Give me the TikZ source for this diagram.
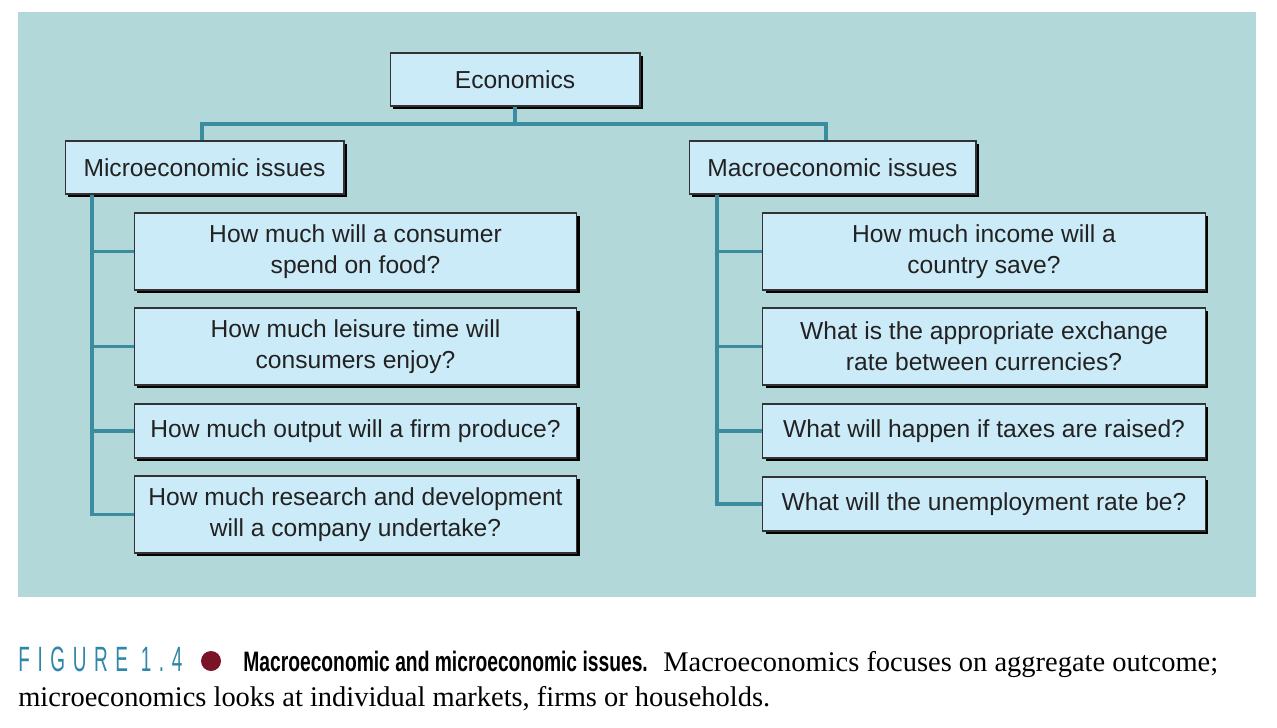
\documentclass[tikz,border=0pt]{standalone}
\usepackage{fontspec}
\usepackage{graphicx}
\setmainfont{Liberation Sans}
\newfontfamily\capserif{Liberation Serif}
\newfontfamily\figfont[LetterSpace=40]{Liberation Sans}
\usetikzlibrary{shadows}
\definecolor{panel}{HTML}{B3D8D9}
\definecolor{boxfill}{HTML}{CCEBF8}
\definecolor{boxline}{HTML}{333333}
\definecolor{linkteal}{HTML}{3C8CA0}
\definecolor{figteal}{HTML}{2E86A8}
\definecolor{dotred}{HTML}{7A1228}
\definecolor{textdark}{HTML}{222222}
\tikzset{
  headbox/.style={draw=boxline, fill=boxfill, line width=0.6pt, align=center, text=textdark, inner sep=4pt, minimum height=1.06cm, drop shadow={opacity=1, fill=black, shadow xshift=0.06cm, shadow yshift=-0.06cm}},
  qbox/.style={headbox, minimum width=8.86cm},
  link/.style={draw=linkteal, line width=2.1pt},
  captext/.style={anchor=base west, inner sep=0pt}
}
\begin{document}
\begin{tikzpicture}[x=0.02cm, y=-0.02cm, font=\fontsize{14}{17.6}\selectfont]
  \useasboundingbox (0,0) rectangle (1277,727);
  \fill[panel] (18,12) rectangle (1256,597);

  \node[headbox, minimum width=5cm] (econ) at (515,79.5) {Economics};
  \node[headbox, minimum width=5.58cm] (micro) at (204.5,167.5) {Microeconomic issues};
  \node[headbox, minimum width=5.74cm] (macro) at (832.5,167.5) {Macroeconomic issues};

  \node[qbox, minimum height=1.54cm] (mi1) at (355.5,251.5) {How much will a consumer\\spend on food?};
  \node[qbox, minimum height=1.54cm] (mi2) at (355.5,346.5) {How much leisure time will\\consumers enjoy?};
  \node[qbox, minimum height=1.08cm] (mi3) at (355.5,431) {How much output will a firm produce?};
  \node[qbox, minimum height=1.54cm] (mi4) at (355.5,514.5) {How much research and development\\will a company undertake?};

  \node[qbox, minimum height=1.54cm] (ma1) at (984,251.5) {How much income will a\\country save?};
  \node[qbox, minimum height=1.54cm] (ma2) at (984,346.5) {What is the appropriate exchange\\rate between currencies?};
  \node[qbox, minimum height=1.08cm] (ma3) at (984,431) {What will happen if taxes are raised?};
  \node[qbox, minimum height=1.08cm] (ma4) at (984,504) {What will the unemployment rate be?};

  \coordinate (bus) at (515,124);
  \coordinate (ltrunk) at (92,0);
  \coordinate (rtrunk) at (717,0);
  \draw[link] (econ.south) -- (bus);
  \draw[link] ([xshift=-0.05cm]micro.north) |- (bus) -| ([xshift=-0.13cm]macro.north);
  \draw[link] (micro.south -| ltrunk) |- (mi4.west);
  \draw[link] (macro.south -| rtrunk) |- (ma4.west);
  \foreach \q in {mi1,mi2,mi3}
    \draw[link] (\q.west -| ltrunk) -- (\q.west);
  \foreach \q in {ma1,ma2,ma3}
    \draw[link] (\q.west -| rtrunk) -- (\q.west);

  % caption
  \node[captext, text=figteal, font=\figfont\fontsize{20}{22}\selectfont] (fig) at (18,671) {\scalebox{0.54}[1]{FIGURE 1.4}};
  \node[circle, fill=dotred, minimum size=0.4cm, inner sep=0pt] (dot) at (211,661) {};
  \node[captext, font=\bfseries\fontsize{16}{19}\selectfont] (title) at (243,671) {\scalebox{0.685}[1]{Macroeconomic and microeconomic issues.}};
  \node[captext, font=\capserif\fontsize{16.2}{19}\selectfont] (cap1) at (663,671) {Macroeconomics focuses on aggregate outcome;};
  \node[captext, font=\capserif\fontsize{16.2}{19}\selectfont] (cap2) at (18,706) {microeconomics looks at individual markets, firms or households.};
\end{tikzpicture}
\end{document}
